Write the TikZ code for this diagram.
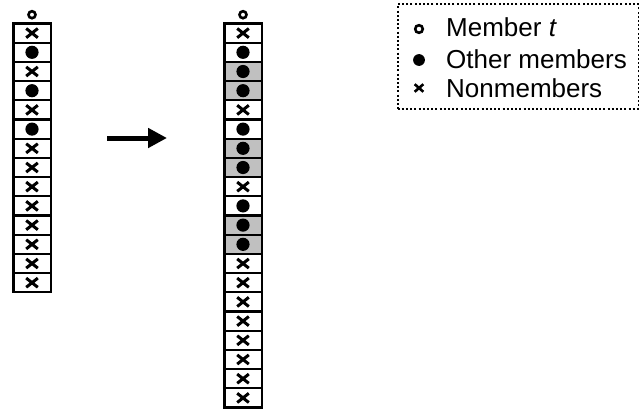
\documentclass[tikz,border=0pt]{standalone}
\usepackage{fontspec}
\setmainfont{Liberation Sans}
\usetikzlibrary{arrows.meta}
\begin{document}
\begin{tikzpicture}[x=1pt,y=-1pt,
  cellbox/.style={draw=black, line width=2.2pt, minimum width=37.2pt, minimum height=19.2pt, inner sep=0pt, outer sep=0pt, fill=white},
  graycell/.style={cellbox, fill={rgb,255:red,192;green,192;blue,192}},
  topmark/.style={draw=black, circle, line width=2.6pt, minimum size=7pt, inner sep=0pt},
  xmark/.style={line width=3pt, line cap=butt},
  dotmark/.style={fill=black},
  legendbox/.style={draw=black, line width=2pt, dash pattern=on 2pt off 2.2pt, minimum width=241pt, minimum height=104pt, inner sep=0pt},
  legtext/.style={anchor=base west, inner sep=0pt, font=\fontsize{26}{30}\selectfont},
  bigarrow/.style={line width=5pt, -{Triangle[length=19pt,width=19pt]}}]
\useasboundingbox (0,0) rectangle (639,412);
% left column
\node[topmark] (Lt) at (32,14.7) {};
\foreach \i in {0,...,13} \node[cellbox] (L\i) at (32,{23.5+19.2*\i+9.6}) {};
\foreach \i in {0,2,4,6,7,8,9,10,11,12,13}
  \draw[xmark, shift={(L\i.center)}] (-5.8,-4.6) -- (5.8,4.6) (-5.8,4.6) -- (5.8,-4.6);
\foreach \i in {1,3,5} \fill[dotmark] (L\i.center) circle[radius=6.6pt];
% right column
\node[topmark] (Rt) at (243,14.7) {};
\foreach \i in {0,1,4,5,8,9,12,13,14,15,16,17,18,19} \node[cellbox] (R\i) at (243,{23.5+19.2*\i+9.6}) {};
\foreach \i in {2,3,6,7,10,11} \node[graycell] (R\i) at (243,{23.5+19.2*\i+9.6}) {};
\foreach \i in {0,4,8,12,13,14,15,16,17,18,19}
  \draw[xmark, shift={(R\i.center)}] (-5.8,-4.6) -- (5.8,4.6) (-5.8,4.6) -- (5.8,-4.6);
\foreach \i in {1,2,3,5,6,7,9,10,11} \fill[dotmark] (R\i.center) circle[radius=6.6pt];
% arrow
\coordinate (a1) at (107,138);
\coordinate (a2) at (167,138);
\draw[bigarrow] (a1) -- (a2);
% legend
\node[legendbox] (leg) at (518,56.5) {};
\coordinate (s1) at (419,29);
\coordinate (s2) at (419,60);
\coordinate (s3) at (419,88);
\draw[line width=2.6pt] (s1) circle[radius=3.8pt];
\fill (s2) circle[radius=5.9pt];
\draw[line width=2.6pt, shift={(s3)}] (-4.3,-3.8) -- (4.3,3.8) (-4.3,3.8) -- (4.3,-3.8);
\node[legtext] (t1) at (446,37) {Member \textit{t}};
\node[legtext] (t2) at (446,68) {Other members};
\node[legtext] (t3) at (446,97) {Nonmembers};
\end{tikzpicture}
\end{document}
